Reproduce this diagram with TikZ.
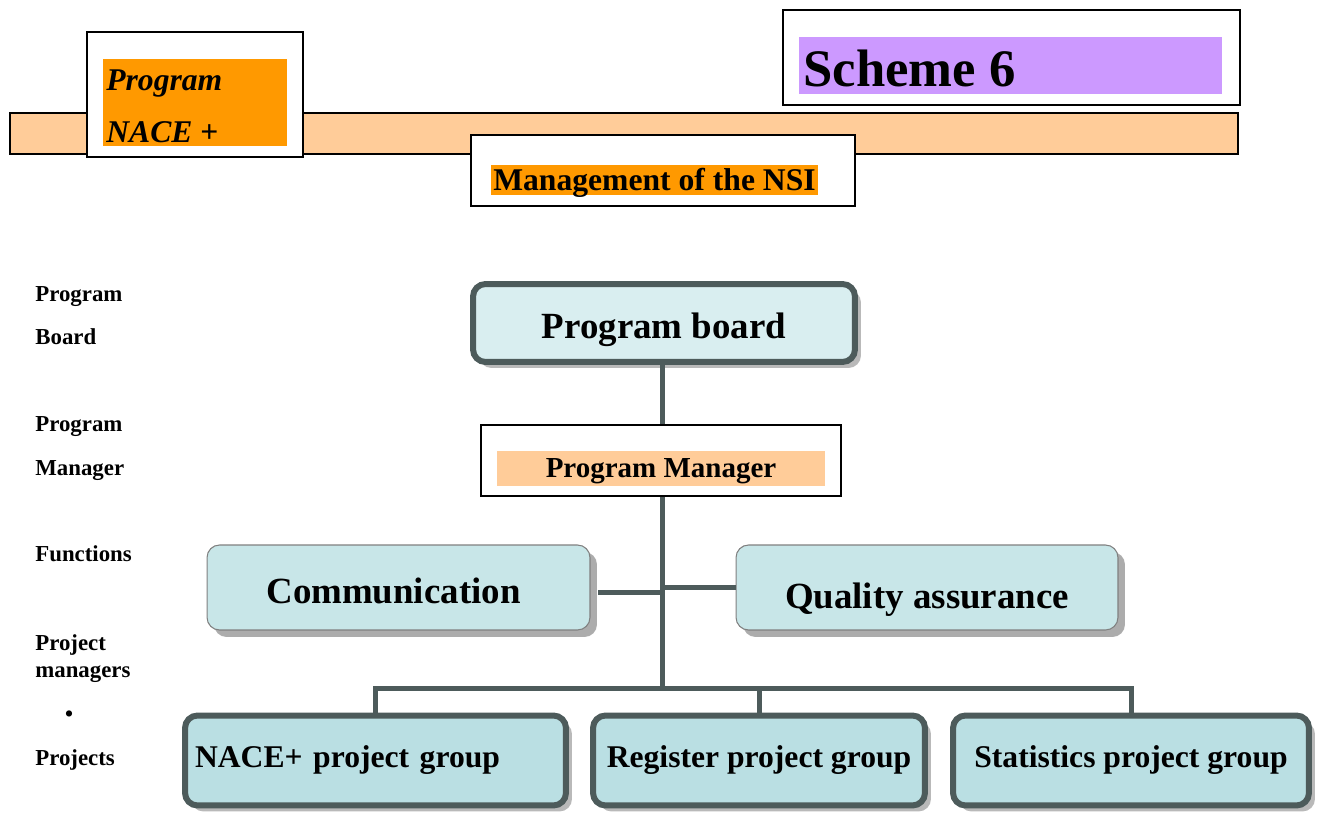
\documentclass[tikz,border=0pt]{standalone}
\usepackage{fontspec}
\setmainfont{Liberation Serif}
\usetikzlibrary{shadows,positioning}
\definecolor{lineGray}{HTML}{4D5B5B}
\definecolor{boardFill}{HTML}{D9EEF0}
\definecolor{funcFill}{HTML}{C8E6E8}
\definecolor{projFill}{HTML}{BADFE3}
\definecolor{lightOrange}{HTML}{FFCC99}
\definecolor{darkOrange}{HTML}{FF9900}
\definecolor{lilac}{HTML}{CC99FF}
\newcommand{\lowered}[2]{\raisebox{-#1}[\height][\depth]{#2}}

\begin{document}
\begin{tikzpicture}[x=0.02cm,y=-0.02cm]
\tikzstyle{every node}=[font=\bfseries]
\tikzstyle{frame}=[draw=black, fill=white, line width=1pt, inner sep=0pt]
\tikzstyle{patch}=[inner sep=0pt]
\tikzstyle{conn}=[draw=lineGray, line width=0.1cm]
\tikzstyle{board}=[draw=lineGray, fill=boardFill, line width=0.12cm, rounded corners=0.25cm,
  drop shadow={shadow xshift=0.12cm, shadow yshift=-0.12cm, fill=gray!55, opacity=1}]
\tikzstyle{func}=[draw=gray, fill=funcFill, line width=0.6pt, rounded corners=0.25cm,
  drop shadow={shadow xshift=0.14cm, shadow yshift=-0.14cm, fill=gray!65, opacity=1}]
\tikzstyle{proj}=[board, fill=projFill, minimum height=1.8cm, font=\bfseries\fontsize{18}{20}\selectfont]
\tikzstyle{side}=[anchor=west, align=left, inner sep=0pt, font=\bfseries\fontsize{13}{24.5}\selectfont]
\useasboundingbox (0,0) rectangle (1327,813);

% header
\node[frame, fill=lightOrange, minimum width=24.56cm, minimum height=0.82cm] (band) at (624,133.5) {};
\node[frame, minimum width=4.32cm, minimum height=2.5cm] (naceframe) at (195,94.5) {};
\node[patch, fill=darkOrange, minimum width=3.68cm, minimum height=1.74cm] (nacepatch) at (195,102.5) {};
\node[anchor=west, align=left, inner sep=0pt, font=\bfseries\itshape\fontsize{18}{29.5}\selectfont]
  (nacetext) at (106,106) {Program\\NACE {\upshape +}};
\node[frame, minimum width=9.14cm, minimum height=1.9cm] (schemeframe) at (1011.5,57.5) {};
\node[patch, fill=lilac, minimum width=8.46cm, minimum height=1.14cm] (schemepatch) at (1010.5,65.5) {};
\node[anchor=west, inner sep=0pt, font=\bfseries\fontsize{30}{32}\selectfont] (schemetext) at (803,68) {Scheme 6};
\node[frame, minimum width=7.68cm, minimum height=1.42cm] (nsiframe) at (663,170.5) {};
\node[patch, fill=darkOrange, minimum width=6.54cm, minimum height=0.6cm,
  font=\bfseries\fontsize{18}{20}\selectfont] (nsi) at (654.5,180) {\lowered{0.06cm}{Management of the NSI}};

% left column
\node[side] (lboard) at (35,315.5) {Program\\Board};
\node[side, font=\bfseries\fontsize{13}{25}\selectfont] (lman) at (35,449) {Program\\Manager};
\node[side] (lfunc) at (35,554) {Functions};
\node[side, font=\bfseries\fontsize{13}{15.5}\selectfont] (lpm) at (35,658.5) {Project\\managers};
\node[inner sep=0pt, font=\bfseries\fontsize{13}{15}\selectfont] (ldot) at (69,716) {\textbullet};
\node[side] (lproj) at (35,760) {Projects};

% chart
\node[board, minimum width=7.64cm, minimum height=1.56cm, font=\bfseries\fontsize{21}{24}\selectfont]
  (pboard) at (664,323) {\lowered{0.14cm}{Program board}};
\node[frame, minimum width=7.2cm, minimum height=1.42cm] (pm) at (661,460.5) {};
\node[patch, fill=lightOrange, minimum width=6.56cm, minimum height=0.7cm,
  font=\bfseries\fontsize{16.5}{18}\selectfont] (pmtext) at (661,468.5) {\lowered{0.06cm}{Program Manager}};
\node[func, minimum width=7.66cm, minimum height=1.7cm, font=\bfseries\fontsize{21}{24}\selectfont]
  (comm) at (398.5,587.5) {\lowered{0.06cm}{Communication}\kern0.2cm};
\node[func, minimum width=7.64cm, minimum height=1.7cm, font=\bfseries\fontsize{21}{24}\selectfont]
  (qa) at (927,587.5) {\lowered{0.24cm}{Quality assurance}};
\node[proj, text width=7.22cm, inner xsep=0.2cm, align=left] (nace) at (375.5,760.5) {NACE+ project group};
\node[proj, minimum width=6.64cm] (reg) at (759,760.5) {Register project group};
\node[proj, minimum width=7.12cm] (stats) at (1131,760.5) {Statistics project group};

\coordinate (hub) at (662,688);

% connectors
\draw[conn] (pboard.south -| hub) -- (pm.north -| hub);
\draw[conn] (pm.south -| hub) -- (hub);
\draw[conn] ([xshift=0.16cm, yshift=-0.1cm]comm.east) -- ([yshift=-0.1cm]comm.east -| hub);
\draw[conn] (qa.west) -- (qa.west -| hub);
\draw[conn] (nace.north) |- (hub) -| (stats.north);
\draw[conn] (reg.north) -- (reg.north |- hub);
\end{tikzpicture}
\end{document}
